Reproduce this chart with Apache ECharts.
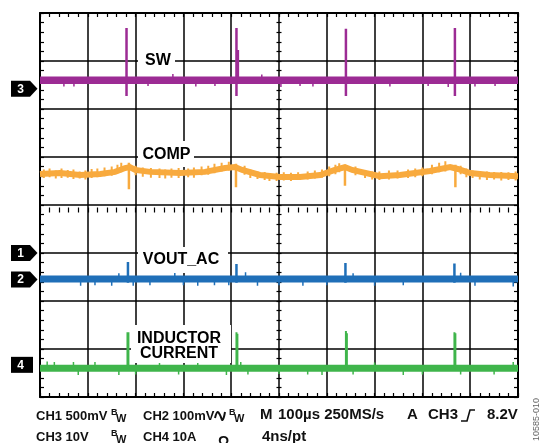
<!DOCTYPE html>
<html>
<head>
<meta charset="utf-8">
<script src="https://cdn.jsdelivr.net/npm/echarts@6/dist/echarts.min.js"></script>
<style>
  html, body { margin: 0; padding: 0; background: #fff; }
  #c { width: 541px; height: 443px; }
</style>
</head>
<body>
<div id="c"></div>
<script>
// Time axis in µs (100 µs/div, 10 divisions); vertical axis in screen divisions (8 divisions).
const timeTicks = [0, 100, 200, 300, 400, 500, 600, 700, 800, 900, 1000];
const divTicks = [-4, -3, -2, -1, 0, 1, 2, 3, 4];

// Trace names
const traceNames = ['SW', 'COMP', 'VOUT_AC', 'INDUCTOR', 'CURRENT'];

// Channel ground markers: [label, level in divisions]
const markerLabels = ['3', '1', '2', '4'];
const markerLevels = [2.42, -1.0, -1.55, -3.33];

// SW node (CH3) — baseline band and switching spikes [t, high, low]
const swBase = [[0, 2.60], [1000, 2.60]];
const swSpikes = [[181, 3.69, 2.27], [411, 3.69, 2.27], [414, 3.23, 2.55], [640, 3.67, 2.27], [868, 3.69, 2.27]];
const swNoise = [[50, 2.58, 2.47], [71, 2.58, 2.47], [226, 2.58, 2.48], [278, 2.62, 2.73], [326, 2.58, 2.47],
  [366, 2.58, 2.48], [464, 2.62, 2.72], [504, 2.58, 2.46], [544, 2.58, 2.48], [571, 2.58, 2.47],
  [732, 2.58, 2.47], [812, 2.58, 2.48], [854, 2.58, 2.46], [910, 2.58, 2.47], [952, 2.58, 2.48]];

// COMP (CH1) — slow ramp with dips at each switching event
const compBase = [[0, 0.646], [42, 0.667], [84, 0.625], [126, 0.646], [157, 0.69], [178, 0.77], [188, 0.79],
  [199, 0.73], [230, 0.69], [293, 0.667], [345, 0.69], [387, 0.77], [408, 0.79], [423, 0.73], [460, 0.625],
  [502, 0.583], [544, 0.583], [586, 0.625], [617, 0.73], [638, 0.79], [653, 0.73], [711, 0.60], [753, 0.625],
  [816, 0.71], [858, 0.79], [874, 0.75], [900, 0.667], [941, 0.625], [1000, 0.60]];
const compDips = [[186, 0.88, 0.33], [410, 0.86, 0.37], [638, 0.84, 0.40], [869, 0.84, 0.37]];
const compNoise = [[8, 0.56, 0.74], [20, 0.58, 0.76], [33, 0.55, 0.72], [45, 0.56, 0.76], [58, 0.57, 0.73],
  [70, 0.54, 0.74], [83, 0.55, 0.70], [95, 0.53, 0.72], [108, 0.56, 0.75], [120, 0.58, 0.76],
  [135, 0.60, 0.78], [150, 0.61, 0.80], [162, 0.66, 0.84], [170, 0.68, 0.88], [200, 0.62, 0.82],
  [215, 0.59, 0.78], [232, 0.57, 0.77], [250, 0.56, 0.76], [262, 0.55, 0.74], [275, 0.57, 0.76],
  [290, 0.56, 0.77], [310, 0.58, 0.76], [322, 0.57, 0.78], [338, 0.62, 0.80], [352, 0.63, 0.82],
  [365, 0.66, 0.86], [380, 0.70, 0.88], [395, 0.72, 0.90], [428, 0.63, 0.82], [440, 0.56, 0.74],
  [455, 0.54, 0.70], [470, 0.52, 0.69], [480, 0.50, 0.66], [495, 0.50, 0.67], [510, 0.51, 0.68],
  [525, 0.50, 0.67], [540, 0.52, 0.68], [560, 0.53, 0.70], [575, 0.55, 0.72], [590, 0.57, 0.74],
  [605, 0.60, 0.80], [618, 0.64, 0.84], [626, 0.68, 0.87], [660, 0.62, 0.80], [680, 0.56, 0.72],
  [695, 0.53, 0.70], [710, 0.52, 0.70], [730, 0.53, 0.72], [748, 0.55, 0.72], [770, 0.56, 0.74],
  [785, 0.58, 0.76], [800, 0.60, 0.78], [820, 0.64, 0.84], [835, 0.68, 0.88], [848, 0.70, 0.91],
  [880, 0.64, 0.82], [892, 0.58, 0.76], [905, 0.56, 0.72], [920, 0.53, 0.71], [935, 0.52, 0.70],
  [950, 0.53, 0.69], [965, 0.51, 0.69], [980, 0.52, 0.68], [995, 0.51, 0.70]];

// VOUT_AC (CH2)
const voutBase = [[0, -1.54], [1000, -1.54]];
const voutSpikes = [[184, -1.19, -1.62], [411, -1.23, -1.62], [639, -1.21, -1.62], [867, -1.22, -1.62]];
const voutNoise = [[85, -1.58, -1.68], [115, -1.58, -1.67], [150, -1.58, -1.68], [165, -1.50, -1.42],
  [195, -1.58, -1.68], [230, -1.58, -1.67], [282, -1.50, -1.40], [300, -1.58, -1.67], [330, -1.58, -1.68],
  [365, -1.58, -1.67], [395, -1.58, -1.67], [430, -1.50, -1.40], [455, -1.58, -1.68], [500, -1.58, -1.67],
  [550, -1.58, -1.68], [600, -1.58, -1.67], [655, -1.50, -1.42], [700, -1.58, -1.68], [760, -1.58, -1.67],
  [880, -1.50, -1.41], [910, -1.58, -1.68], [990, -1.58, -1.70]];

// Inductor current (CH4)
const ilBase = [[0, -3.40], [1000, -3.40]];
const ilSpikes = [[183, -2.65, -3.40], [185, -2.65, -3.40], [411, -2.65, -3.40], [413, -2.68, -3.40],
  [640, -2.625, -3.40], [642, -2.67, -3.40], [867, -2.65, -3.40], [869, -2.67, -3.40]];
const ilNoise = [[15, -3.36, -3.26], [30, -3.36, -3.27], [70, -3.36, -3.27], [80, -3.44, -3.54],
  [115, -3.36, -3.27], [165, -3.44, -3.54], [200, -3.44, -3.53], [250, -3.36, -3.27], [290, -3.44, -3.53],
  [330, -3.36, -3.27], [390, -3.44, -3.54], [420, -3.36, -3.27], [435, -3.44, -3.53], [500, -3.44, -3.52],
  [560, -3.44, -3.53], [590, -3.44, -3.54], [655, -3.44, -3.53], [700, -3.36, -3.28], [760, -3.44, -3.54],
  [800, -3.44, -3.53], [880, -3.44, -3.53], [950, -3.44, -3.53], [990, -3.36, -3.27]];

// Scope readout text
const readoutRow1 = ['CH1 500mV', 'CH2 100mV', 'M', '100µs 250MS/s', 'A', 'CH3', '8.2V'];
const readoutRow2 = ['CH3 10V', 'CH4 10A', 'Ω', '4ns/pt'];
const bwMark = ['B', 'W'];
const figureId = '10585-010';

// ---------------------------------------------------------------------------
const colors = { sw: '#9c2b94', comp: '#f8aa3e', vout: '#1f6fb8', il: '#3fb54b' };
const FONT = '"Liberation Sans", Arial, Helvetica, sans-serif';

// vertical segments [t, a, b] -> polyline pieces separated by gaps
function segs(list) {
  const out = [];
  list.forEach(([t, a, b]) => { out.push([t, a], [t, b], [t, '-']); });
  return out;
}

function lineSeries(data, color, width, z) {
  return {
    type: 'line', data, symbol: 'none', silent: true, animation: false,
    connectNulls: false, z,
    lineStyle: { color, width, cap: 'butt', join: 'miter' }
  };
}

const chart = echarts.init(document.getElementById('c'), null, { renderer: 'canvas' });

const tickStyle = { color: '#000', width: 1.2 };
function xAx(extra) {
  return Object.assign({
    type: 'value', min: timeTicks[0], max: timeTicks[timeTicks.length - 1], interval: 100,
    axisLabel: { show: false }, splitLine: { show: false },
    axisLine: { show: true, onZero: false, lineStyle: { color: '#000', width: 2 } },
    axisTick: { show: true, inside: true, length: 4, lineStyle: tickStyle },
    minorTick: { show: true, splitNumber: 5, length: 4, lineStyle: tickStyle }
  }, extra);
}
function yAx(extra) {
  return Object.assign({
    type: 'value', min: divTicks[0], max: divTicks[divTicks.length - 1], interval: 1,
    axisLabel: { show: false }, splitLine: { show: false },
    axisLine: { show: true, onZero: false, lineStyle: { color: '#000', width: 2 } },
    axisTick: { show: true, inside: true, length: 4, lineStyle: tickStyle },
    minorTick: { show: true, splitNumber: 5, length: 4, lineStyle: tickStyle }
  }, extra);
}

const grid = { left: 40, top: 13, width: 478, height: 384, show: false };
const gridLine = { show: true, lineStyle: { color: '#000', width: 1.5 } };

chart.setOption({
  animation: false,
  backgroundColor: '#fff',
  grid,
  xAxis: [
    xAx({ position: 'bottom', splitLine: gridLine }),
    xAx({ position: 'top' }),
    // tick marks across the centre horizontal graticule line
    xAx({ position: 'bottom', offset: -194.5, axisLine: { show: false },
      axisTick: { show: true, inside: false, length: 5, lineStyle: tickStyle },
      minorTick: { show: true, splitNumber: 5, length: 5, lineStyle: tickStyle } })
  ],
  yAxis: [
    yAx({ position: 'left', splitLine: gridLine }),
    yAx({ position: 'right' }),
    // tick marks across the centre vertical graticule line
    yAx({ position: 'left', offset: -241.5, axisLine: { show: false },
      axisTick: { show: true, inside: false, length: 5, lineStyle: tickStyle },
      minorTick: { show: true, splitNumber: 5, length: 5, lineStyle: tickStyle } })
  ],
  series: [
    lineSeries(swBase, colors.sw, 7.5, 3),
    lineSeries(segs(swSpikes), colors.sw, 2.5, 4),
    lineSeries(segs(swNoise), colors.sw, 1.5, 4),
    lineSeries(compBase, colors.comp, 6, 3),
    lineSeries(segs(compDips), colors.comp, 2.5, 4),
    lineSeries(segs(compNoise), colors.comp, 2, 4),
    lineSeries(voutBase, colors.vout, 7, 3),
    lineSeries(segs(voutSpikes), colors.vout, 2.5, 4),
    lineSeries(segs(voutNoise), colors.vout, 1.5, 4),
    lineSeries(ilBase, colors.il, 7, 3),
    lineSeries(segs(ilSpikes), colors.il, 2, 4),
    lineSeries(segs(ilNoise), colors.il, 1.5, 4)
  ]
});

// ---- annotations ----
const g = [];
function boxLabel(x, y, w, h, lines, cx, cys) {
  g.push({ type: 'rect', z: 100, shape: { x, y, width: w, height: h }, style: { fill: '#fff' } });
  lines.forEach((t, i) => {
    g.push({ type: 'text', z: 101, x: cx, y: cys[i],
      style: { text: t, fill: '#000', font: 'bold 16px ' + FONT, align: 'center', verticalAlign: 'middle' } });
  });
}
boxLabel(138, 52, 37, 18, [traceNames[0]], 158, [61]);
boxLabel(138, 141, 56, 26, [traceNames[1]], 166.5, [155]);
boxLabel(138, 247, 90, 26, [traceNames[2]], 181, [260]);
boxLabel(131, 325, 100, 38, [traceNames[3], traceNames[4]], 179, [338.5, 354]);

// channel ground markers
markerLabels.forEach((lab, i) => {
  const cy = chart.convertToPixel({ yAxisIndex: 0 }, markerLevels[i]);
  const pts = lab === '4'
    ? [[11, cy - 8], [33, cy - 8], [33, cy + 8], [11, cy + 8]]
    : [[11, cy - 8], [30, cy - 8], [37.5, cy], [30, cy + 8], [11, cy + 8]];
  g.push({ type: 'polygon', z: 100, shape: { points: pts }, style: { fill: '#000' } });
  g.push({ type: 'text', z: 101, x: 20.5, y: cy + 0.5,
    style: { text: lab, fill: '#fff', font: 'bold 12px ' + FONT, align: 'center', verticalAlign: 'middle' } });
});

// readout text
function txt(t, x, y, size) {
  g.push({ type: 'text', z: 100, x, y,
    style: { text: t, fill: '#111', font: 'bold ' + size + 'px ' + FONT, align: 'left', verticalAlign: 'middle' } });
}
const r1 = 416, r2 = 437;
txt(readoutRow1[0], 36, r1, 13);
txt(bwMark[0], 111, r1 - 3, 9); txt(bwMark[1], 116, r1 + 3, 11);
txt(readoutRow1[1], 143, r1, 13);
// AC coupling glyph
g.push({ type: 'polyline', z: 100,
  shape: { points: [[215, 418], [217.5, 412], [220, 415], [222.5, 420], [225, 412]], smooth: 0.4 },
  style: { stroke: '#111', lineWidth: 2, fill: null } });
txt(bwMark[0], 229, r1 - 3, 9); txt(bwMark[1], 234, r1 + 3, 11);
txt(readoutRow1[2], 260, r1 - 1, 15);
txt(readoutRow1[3], 278, r1 - 1, 15);
txt(readoutRow1[4], 407, r1 - 1, 15);
txt(readoutRow1[5], 428, r1 - 1, 15);
// rising-edge trigger glyph
g.push({ type: 'polyline', z: 100, shape: { points: [[461, 421], [467, 421], [470, 410], [475, 410]] },
  style: { stroke: '#111', lineWidth: 1.6, fill: null } });
txt(readoutRow1[6], 487, r1 - 1, 15);

txt(readoutRow2[0], 36, r2, 13);
txt(bwMark[0], 111, r2 - 3, 9); txt(bwMark[1], 116, r2 + 3, 11);
txt(readoutRow2[1], 143, r2, 13);
txt(readoutRow2[2], 218, r2 + 5, 14);
txt(readoutRow2[3], 262, r2, 15);

// figure reference number, rotated along the right edge
g.push({ type: 'text', z: 100, x: 537, y: 441, rotation: Math.PI / 2,
  style: { text: figureId, fill: '#666', font: '9px ' + FONT, align: 'left', verticalAlign: 'middle' } });

chart.setOption({ graphic: { elements: g } });
</script>
</body>
</html>
